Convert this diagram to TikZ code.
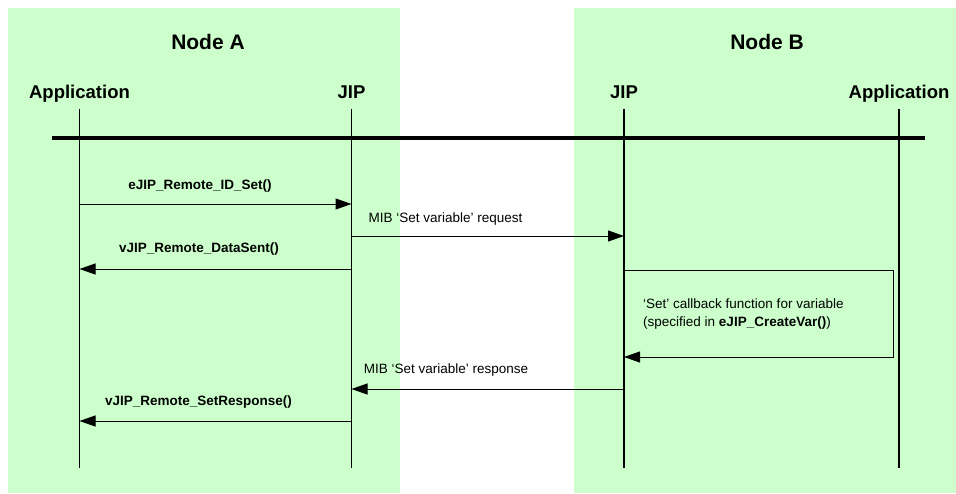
\documentclass[tikz,border=0pt]{standalone}
\usepackage{fontspec}
\setmainfont{Liberation Sans}
\usetikzlibrary{arrows.meta}
\definecolor{nodegreen}{HTML}{CCFFCC}
\tikzset{
	lifeline/.style={line width=1.8pt},
	bus/.style={line width=3.8pt},
	msg/.style={line width=1pt, -{Triangle[length=16pt,width=11pt]}},
	nodetitle/.style={font=\fontsize{21}{25}\selectfont\bfseries, anchor=base, inner sep=0pt},
	actor/.style={font=\fontsize{18.5}{22}\selectfont\bfseries, anchor=base, inner sep=0pt},
	lbl/.style={font=\fontsize{13.5}{16}\selectfont, anchor=base, inner sep=0pt},
	fnlbl/.style={lbl, font=\fontsize{13.5}{16}\selectfont\bfseries}
}
\begin{document}
\begin{tikzpicture}[x=1pt,y=-1pt]
	\useasboundingbox (0,0) rectangle (956,493);
	\fill[nodegreen] (8,8) rectangle (400,493);
	\fill[nodegreen] (574,8) rectangle (956,493);
	\node[nodetitle] (titleA) at (208,49) {Node A};
	\node[nodetitle] (titleB) at (767,49) {Node B};
	\node[actor] (appA) at (79.5,98) {Application};
	\node[actor] (jipA) at (351.5,98) {JIP};
	\node[actor] (jipB) at (624,98) {JIP};
	\node[actor] (appB) at (899,98) {Application};
	\foreach \n in {appA,jipA,jipB,appB}
		\draw[lifeline] (\n |- 0,109) -- (\n |- 0,468);
	\coordinate (busL) at (52,138);
	\coordinate (busR) at (925,138);
	\draw[bus] (busL) -- (busR);
	% Node A local calls and the request over the air
	\draw[msg] (appA |- 0,204) -- (jipA |- 0,204);
	\node[fnlbl] (idSet) at (200,189) {eJIP\_Remote\_ID\_Set()};
	\draw[msg] (jipA |- 0,236) -- (jipB |- 0,236);
	\node[lbl] (req) at (445.5,222) {MIB ‘Set variable’ request};
	\draw[msg] (jipA |- 0,269) -- (appA |- 0,269);
	\node[fnlbl] (dataSent) at (199,252.5) {vJIP\_Remote\_DataSent()};
	% callback loop in Node B
	\coordinate (cbR) at (893,0);
	\draw[msg] (jipB |- 0,270.5) -- (cbR |- 0,270.5) -- (cbR |- 0,357) -- (jipB |- 0,357);
	\node[lbl, anchor=base west] (cbLine1) at (643,308) {‘Set’ callback function for variable};
	\node[lbl, anchor=base west] (cbLine2) at ([yshift=-18.5pt]cbLine1.base west) {(specified in \textbf{eJIP\_CreateVar()})};
	% response back to Node A
	\draw[msg] (jipB |- 0,389) -- (jipA |- 0,389);
	\node[lbl] (resp) at (446,373.5) {MIB ‘Set variable’ response};
	\draw[msg] (jipA |- 0,421) -- (appA |- 0,421);
	\node[fnlbl] (setResp) at (198.5,405.5) {vJIP\_Remote\_SetResponse()};
\end{tikzpicture}
\end{document}
